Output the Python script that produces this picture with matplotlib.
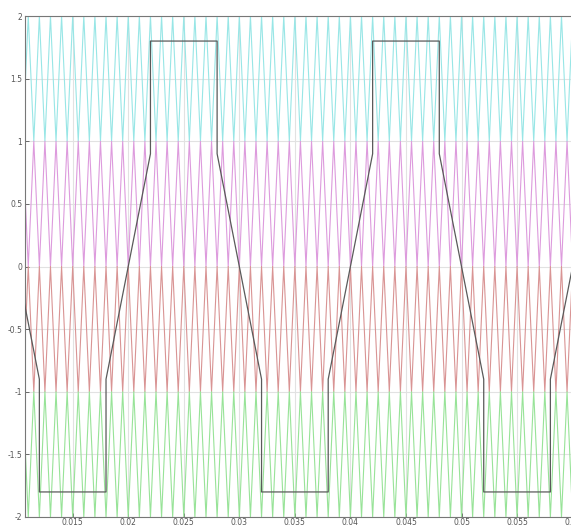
import numpy as np
import matplotlib
matplotlib.use("Agg")
import matplotlib.pyplot as plt
from matplotlib.ticker import FormatStrFormatter

plt.rcParams['axes.unicode_minus'] = False

# carrier settings (level-shifted, alternate phase opposition)
carrier_period = 0.001
band_lower = [1.0, 0.0, -1.0, -2.0]
band_upper = [2.0, 1.0, 0.0, -1.0]
band_inverted = [False, True, False, True]   # True -> minimum at whole ms
band_colors = ['#98e6e6', '#dd9bdd', '#d99494', '#98e398']

# reference (modulating) signal breakpoints
ref_t = [0.008, 0.012, 0.012, 0.018, 0.018, 0.022, 0.022, 0.028, 0.028,
         0.032, 0.032, 0.038, 0.038, 0.042, 0.042, 0.048, 0.048, 0.052,
         0.052, 0.058, 0.058, 0.062]
ref_v = [0.9, -0.9, -1.8, -1.8, -0.9, 0.9, 1.8, 1.8, 0.9,
         -0.9, -1.8, -1.8, -0.9, 0.9, 1.8, 1.8, 0.9, -0.9,
         -1.8, -1.8, -0.9, 0.9]

x_ticks = [0.015, 0.02, 0.025, 0.03, 0.035, 0.04, 0.045, 0.05, 0.055, 0.06]
y_ticks = [-2, -1.5, -1, -0.5, 0, 0.5, 1, 1.5, 2]

fig = plt.figure(figsize=(5.71, 5.27), dpi=100)
ax = fig.add_axes([25 / 571, 10 / 527, 547.6 / 571, 501 / 527])

# carrier vertices every half period
vt = np.arange(0.010, 0.0621, carrier_period / 2)
frac = (vt / carrier_period) % 1
whole = np.isclose(frac, 0) | np.isclose(frac, 1)
for lo, hi, inv, col in zip(band_lower, band_upper, band_inverted, band_colors):
    if inv:
        vv = np.where(whole, lo, hi)
    else:
        vv = np.where(whole, hi, lo)
    ax.plot(vt, vv, color=col, lw=0.8, zorder=2)

ax.plot(ref_t, ref_v, color='#5a5a5a', lw=0.9, zorder=3)

ax.set_xlim(0.010707, 0.06)
ax.set_ylim(-2, 2)
ax.set_xticks(x_ticks)
ax.set_yticks(y_ticks)
ax.xaxis.set_major_formatter(FormatStrFormatter('%g'))
ax.yaxis.set_major_formatter(FormatStrFormatter('%g'))
ax.grid(True, color='#e2e2e2', lw=0.8, zorder=0)
ax.set_axisbelow(True)
ax.tick_params(direction='in', length=3, width=0.6, colors='#555555',
               labelsize=5.5, pad=2, top=False, right=False)
ax.tick_params(axis='x', pad=0.4)
for s in ax.spines.values():
    s.set_color('#777777')
    s.set_linewidth(0.8)

fig.savefig('out.png', dpi=100)
